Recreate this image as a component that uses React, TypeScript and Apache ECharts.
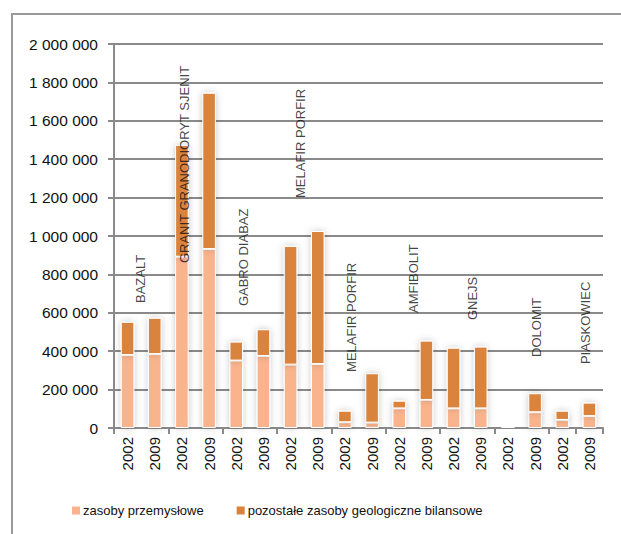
import React, { useEffect, useRef } from "react";
import * as echarts from "echarts";

const categories = [
  "2002", "2009", "2002", "2009", "2002", "2009", "2002", "2009", "2002",
  "2009", "2002", "2009", "2002", "2009", "2002", "2009", "2002", "2009",
];
const seriesNames = ["zasoby przemysłowe", "pozostałe zasoby geologiczne bilansowe"];
const industrial = [
  380000, 385000, 892000, 932000, 351000, 375000, 330000, 333000, 30000,
  28000, 102000, 146000, 102000, 102000, 8000, 82000, 42000, 62000,
];
const remaining = [
  173000, 189000, 582000, 814000, 99000, 139000, 618000, 693000, 60000,
  257000, 40000, 309000, 316000, 322000, 0, 99000, 48000, 70000,
];
const yTicks = { min: 0, max: 2000000, interval: 200000 };

const rockNames = [
  "BAZALT", "GRANIT GRANODIORYT SJENIT", "GABRO DIABAZ", "MELAFIR PORFIR",
  "MELAFIR PORFIR", "AMFIBOLIT", "GNEJS", "DOLOMIT", "PIASKOWIEC",
];
const rockLabelX = [0.96, 2.58, 4.78, 6.88, 8.76, 11.04, 13.18, 15.57, 17.34];
const rockLabelY = [651000, 859000, 635000, 1198000, 292000, 599000, 562000, 370000, 333000];

const FONT = "'Liberation Sans', Arial, sans-serif";
const LIGHT = "#F9B48E";
const DARK = "#D9833E";
const GRID = "#8a8a8a";

function fmt(v: number) {
  return String(v).replace(/\B(?=(\d{3})+(?!\d))/g, " ");
}

export default function App() {
  const ref = useRef<HTMLDivElement>(null);
  useEffect(() => {
    if (!ref.current) return;
    const chart = echarts.init(ref.current, undefined, { renderer: "svg" });
    const barStyle = (color: string) => ({
      color,
      borderColor: "#ffffff",
      borderWidth: 1,
      shadowColor: "rgba(0,0,0,0.22)",
      shadowBlur: 7,
    });
    chart.setOption({
      animation: false,
      backgroundColor: "#ffffff",
      textStyle: { fontFamily: FONT },
      graphic: [
        {
          type: "rect",
          shape: { x: 12, y: 14, width: 700, height: 600 },
          style: { fill: "none", stroke: "#9a9a9a", lineWidth: 2 },
          silent: true,
          z: -10,
        },
      ],
      grid: { left: 114, right: 18, top: 44, bottom: 106, containLabel: false },
      legend: {
        data: seriesNames.map((n, i) => ({
          name: n,
          itemStyle: { color: i === 0 ? LIGHT : DARK, borderWidth: 0, shadowBlur: 0 },
        })),
        left: 72,
        top: 504,
        padding: 0,
        icon: "rect",
        itemWidth: 8,
        itemHeight: 8,
        itemGap: 33,
        textStyle: { fontFamily: FONT, fontSize: 13, color: "#111", padding: [0, 0, 0, -2] },
      },
      xAxis: [
        {
          type: "category",
          data: categories,
          axisLine: { lineStyle: { color: GRID, width: 2 } },
          axisTick: { show: true, interval: 1, length: 6, lineStyle: { color: GRID, width: 2 } },
          axisLabel: {
            interval: 0,
            rotate: 90,
            margin: 9,
            fontFamily: FONT,
            fontSize: 15,
            color: "#111",
          },
        },
        { type: "value", min: 0, max: 18, show: false },
      ],
      yAxis: {
        type: "value",
        min: yTicks.min,
        max: yTicks.max,
        interval: yTicks.interval,
        axisLine: { show: true, lineStyle: { color: GRID, width: 2 } },
        axisTick: { show: true, length: 6, lineStyle: { color: GRID, width: 2 } },
        splitLine: { lineStyle: { color: GRID, width: 2 } },
        axisLabel: {
          formatter: (v: number) => fmt(v),
          fontFamily: FONT,
          fontSize: 15.5,
          color: "#111",
          margin: 16,
        },
      },
      series: [
        {
          name: seriesNames[0],
          type: "bar",
          stack: "total",
          barWidth: "50%",
          data: industrial,
          itemStyle: barStyle(LIGHT),
        },
        {
          name: seriesNames[1],
          type: "bar",
          stack: "total",
          barWidth: "50%",
          data: remaining,
          itemStyle: barStyle(DARK),
        },
        {
          name: "labels",
          type: "scatter",
          xAxisIndex: 1,
          symbolSize: 1,
          itemStyle: { color: "transparent" },
          silent: true,
          z: 10,
          data: rockNames.map((n, i) => ({ value: [rockLabelX[i], rockLabelY[i]], name: n })),
          label: {
            show: true,
            position: "inside",
            rotate: 90,
            align: "left",
            verticalAlign: "middle",
            formatter: (p: any) => p.name,
            fontFamily: FONT,
            fontSize: 13,
            color: "#111",
          },
        },
      ],
    });
    return () => chart.dispose();
  }, []);
  return (
    <div
      ref={ref}
      style={{ position: "fixed", left: 0, top: 0, width: 621, height: 534, background: "#fff" }}
    />
  );
}
